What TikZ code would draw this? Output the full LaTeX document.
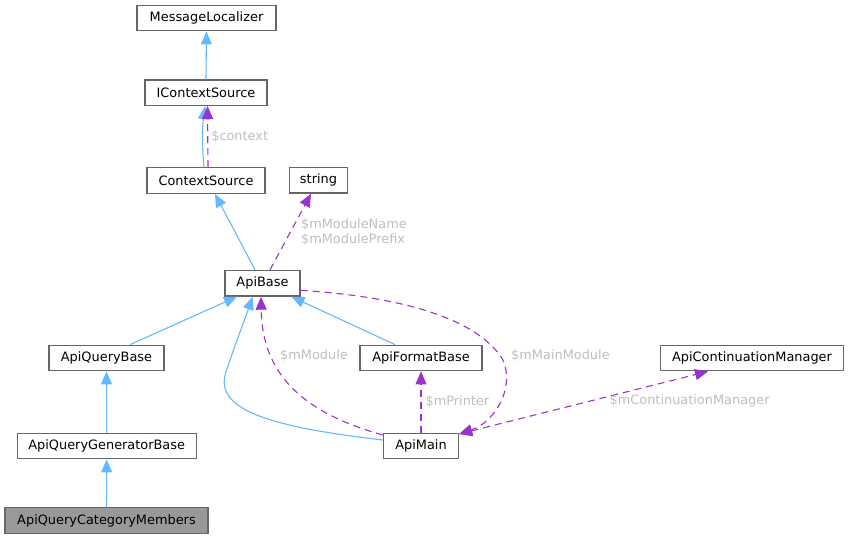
\documentclass[tikz,border=0pt]{standalone}
\usepackage{fontspec}
\setmainfont{DejaVu Sans}
\usetikzlibrary{arrows.meta}
\definecolor{boxline}{HTML}{666666}
\definecolor{boxfill}{HTML}{999999}
\definecolor{inhblue}{HTML}{63B8FF}
\definecolor{usepurple}{HTML}{9A32CD}
\definecolor{lblgrey}{HTML}{BEBEBE}
\begin{document}
\begin{tikzpicture}[x=1pt, y=-1pt,
  cls/.style={draw=boxline, line width=1.3pt, fill=white, minimum height=25.5pt, inner sep=0pt,
    font=\fontsize{12.9}{15}\selectfont},
  inh/.style={draw=inhblue, line width=1.1pt, -{Triangle[length=13pt,width=11pt]}},
  mem/.style={draw=usepurple, line width=1.1pt, dash pattern=on 7pt off 5pt,
    -{Triangle[length=13pt,width=11pt]}},
  lbl/.style={text=lblgrey, font=\fontsize{12.9}{15}\selectfont, inner sep=0pt, align=left}]
\useasboundingbox (0,0) rectangle (849,539);
\node[cls, minimum width=139pt] (P_0_0) at (206.5,18) {MessageLocalizer};
\node[cls, minimum width=122pt] (P_1_0) at (206,92.7) {IContextSource};
\node[cls, minimum width=118pt] (P_2_0) at (206,180.5) {ContextSource};
\node[cls, minimum width=58pt] (P_2_1) at (318.5,180.3) {string};
\node[cls, minimum width=75pt] (P_3_0) at (262.5,283.3) {ApiBase};
\node[cls, minimum width=115pt] (P_4_0) at (106.5,358) {ApiQueryBase};
\node[cls, minimum width=122pt] (P_4_1) at (421,358) {ApiFormatBase};
\node[cls, minimum width=183pt] (P_4_2) at (752,358) {ApiContinuationManager};
\node[cls, minimum width=179pt] (P_5_0) at (106.7,446) {ApiQueryGeneratorBase};
\node[cls, minimum width=75pt] (P_5_1) at (421,446) {ApiMain};
\node[cls, minimum width=203pt, fill=boxfill] (P_6_0) at (106.5,520.5) {ApiQueryCategoryMembers};
\draw[inh] (P_1_0.north) -- (P_0_0.south);
\draw[inh] ([xshift=-2pt]P_2_0.north) to[bend left=6] ([xshift=-1pt]P_1_0.south);
\draw[mem] ([xshift=2pt]P_2_0.north) -- ([xshift=1.5pt]P_1_0.south)
  node[lbl, midway, right=3pt] {\$context};
\draw[inh] ([xshift=-7.5pt]P_3_0.north) -- ([xshift=9pt]P_2_0.south);
\draw[mem] ([xshift=7.5pt]P_3_0.north) -- ([xshift=-7.5pt]P_2_1.south)
  node[lbl, midway, right=10pt] {\$mModuleName\\\$mModulePrefix};
\draw[inh] ([xshift=23.5pt]P_4_0.north) -- ([xshift=-25.5pt]P_3_0.south);
\draw[inh] ([xshift=-26pt]P_4_1.north) -- ([xshift=29pt]P_3_0.south);
\draw[inh] ([yshift=6pt]P_5_1.west) .. controls (280,428) and (212,412) .. (226,372)
  .. controls (233,350) and (244,322) .. ([xshift=-10pt]P_3_0.south);
\draw[mem] ([yshift=11pt]P_5_1.west) .. controls (300,412) and (262,372) .. ([xshift=-1.5pt]P_3_0.south);
\node[lbl] (L_mod) at (314,356) {\$mModule};
\draw[mem] (P_5_1.north) -- (P_4_1.south) node[lbl, midway, right=4pt] {\$mPrinter};
\draw[mem] ([yshift=-7pt]P_3_0.east) .. controls (420,298) and (482,325) .. (503,360)
  .. controls (515,388) and (495,422) .. ([yshift=12pt]P_5_1.east);
\node[lbl, anchor=west] (L_main) at (511,356) {\$mMainModule};
\draw[mem, {Triangle[length=13pt,width=11pt]}-{Triangle[length=13pt,width=11pt]}]
  ([yshift=12pt]P_5_1.east) -- ([xshift=-44pt]P_4_2.south)
  node[lbl, pos=0.53, right=18pt] {\$mContinuationManager};
\draw[inh] (P_5_0.north) -- (P_4_0.south);
\draw[inh] (P_6_0.north) -- (P_5_0.south);
\end{tikzpicture}
\end{document}
